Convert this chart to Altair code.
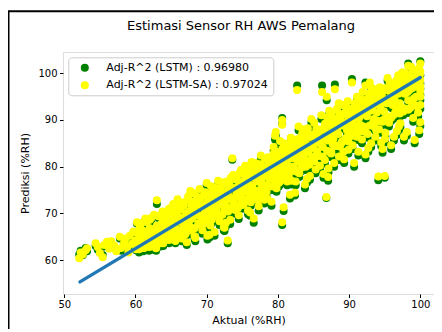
import altair as alt
import pandas as pd

# ---- data ----
# scattered points over the whole band (actual RH, LSTM-SA prediction, LSTM prediction)
spread_actual = [
    52.1, 52.3, 52.6, 53.0, 53.2, 54.4, 54.7, 55.0, 55.4, 55.6, 56.0, 56.3, 56.6, 57.0, 57.3, 57.8, 58.0, 58.4,
    58.6, 58.9, 59.2, 59.5, 59.7, 60.0, 60.2, 60.4, 60.6, 60.8, 61.0, 61.2, 61.4, 61.6, 61.8, 62.0, 59.0, 60.1, 61.1, 61.9, 62.2, 62.4,
    62.6, 62.8, 63.0, 63.0, 63.2, 63.4, 63.5, 63.7, 63.9, 64.0, 64.2, 64.3, 64.5, 64.7, 64.8, 65.0, 65.1, 65.3, 65.5, 65.6,
    65.8, 66.0, 62.9, 63.6, 64.4, 65.2, 65.9, 64.1,
    66.2, 66.3, 66.5, 66.6, 66.8, 67.0, 67.1, 67.3, 67.4, 67.6, 67.8, 67.9, 68.0, 68.2, 68.3, 68.5, 68.6, 68.8, 69.0, 69.1,
    69.3, 69.4, 69.6, 69.8, 69.9, 70.0, 66.4, 67.2, 67.7, 68.4, 68.9, 69.5, 70.1, 66.9, 68.1,
    70.2, 70.3, 70.5, 70.6, 70.8, 71.0, 71.1, 71.3, 71.4, 71.6, 71.8, 71.9, 72.0, 72.2, 72.3, 72.5, 72.6, 72.8, 73.0, 73.1,
    73.3, 73.4, 73.6, 73.8, 73.9, 74.0, 70.4, 70.9, 71.5, 72.1, 72.7, 73.2, 73.7, 70.7, 71.2, 71.7, 72.4, 72.9, 73.5, 72.95,
    74.2, 74.3, 74.5, 74.6, 74.8, 75.0, 75.1, 75.3, 75.4, 75.6, 75.8, 75.9, 76.0, 76.2, 76.3, 76.5, 76.6, 76.8, 77.0, 77.1,
    77.3, 77.4, 77.6, 77.8, 77.9, 78.0, 74.4, 74.9, 75.5, 76.1, 76.7, 77.2, 77.7, 74.7, 75.2, 75.7, 76.4, 76.9, 77.5, 78.1,
    78.2, 78.3, 78.5, 78.6, 78.8, 79.0, 79.1, 79.3, 79.4, 79.6, 79.8, 79.9, 80.0, 80.2, 80.3, 80.5, 80.6, 80.6, 80.8, 81.0,
    81.1, 81.3, 81.4, 81.6, 81.8, 81.9, 82.0, 78.4, 78.9, 79.5, 80.1, 80.7, 81.2, 81.7, 78.7, 79.2, 79.7, 80.4, 80.9, 81.5,
    82.1, 79.6, 80.6, 80.8,
    82.2, 82.3, 82.5, 82.6, 82.7, 82.8, 83.0, 83.1, 83.3, 83.4, 83.6, 83.8, 83.9, 84.0, 84.2, 84.3, 84.5, 84.6, 84.8, 85.0,
    85.1, 85.3, 85.4, 85.6, 85.8, 85.9, 86.0, 86.2, 82.4, 82.9, 83.5, 84.1, 84.7, 85.2, 85.7, 82.55, 83.2, 83.7, 84.4, 84.9,
    85.5, 86.1, 83.45,
    86.3, 86.5, 86.6, 86.8, 86.9, 87.0, 87.1, 87.3, 87.4, 87.6, 87.8, 87.9, 88.0, 88.0, 88.2, 88.3, 88.5, 88.6, 88.8, 89.0,
    89.1, 89.3, 89.4, 89.6, 89.8, 89.9, 90.0, 86.4, 86.7, 87.2, 87.7, 88.1, 88.7, 89.2, 89.7, 86.85, 87.5, 88.4, 88.9, 89.5,
    90.1, 87.05, 88.55,
    90.2, 90.3, 90.4, 90.5, 90.6, 90.8, 91.0, 91.1, 91.3, 91.4, 91.6, 91.8, 91.9, 92.0, 92.2, 92.3, 92.3, 92.5, 92.6, 92.8,
    93.0, 93.1, 93.3, 93.4, 93.6, 93.8, 93.9, 94.0, 90.7, 91.2, 91.7, 92.1, 92.7, 93.2, 93.7, 90.9, 91.5, 92.4, 92.9, 93.5,
    94.1, 94.2, 94.4, 94.5, 94.6, 94.8, 95.0, 95.0, 95.1, 95.3, 95.4, 95.6, 95.8, 95.9, 96.0, 96.2, 96.3, 96.5, 96.6, 96.8,
    97.0, 94.3, 94.7, 95.2, 95.7, 96.1, 96.7, 94.9, 95.5, 96.4, 96.9, 95.05,
    97.1, 97.2, 97.4, 97.5, 97.6, 97.8, 98.0, 98.1, 98.3, 98.3, 98.4, 98.6, 98.8, 98.9, 99.0, 99.2, 99.2, 99.4, 99.5, 99.6,
    99.8, 99.9, 100.0, 100.0, 100.0, 100.0, 100.0, 100.0, 97.3, 97.7, 98.2, 98.7, 99.1, 99.7, 97.9, 98.5, 99.3, 99.85, 100.0, 99.95,
]
spread_sa = [
    60.4, 61.6, 61.2, 62.1, 62.5, 63.6, 62.8, 61.5, 60.6, 63.2, 63.9, 62.4, 64.0, 63.1, 61.9, 65.0, 62.6, 63.7,
    64.6, 62.9, 65.2, 63.5, 66.1, 64.2, 65.8, 63.0, 67.0, 64.9, 66.3, 62.6, 65.5, 68.1, 64.1, 66.8, 61.6, 62.3, 63.8, 62.8, 69.0, 65.0,
    63.2, 66.0, 72.8, 67.4, 64.4, 69.5, 65.7, 67.9, 63.6, 70.2, 66.5, 68.8, 64.8, 71.0, 67.3, 65.4, 69.6, 72.0, 66.8, 64.1,
    70.5, 68.2, 62.5, 66.9, 65.9, 67.0, 73.0, 69.0,
    66.0, 70.8, 64.6, 68.5, 72.4, 65.5, 69.7, 67.2, 73.6, 70.4, 66.3, 71.6, 68.9, 74.3, 65.1, 70.1, 72.9, 67.6, 75.2, 69.4,
    71.8, 66.4, 73.9, 70.7, 68.0, 76.5, 71.5, 63.8, 74.8, 64.7, 72.0, 68.8, 65.2, 67.5, 71.2,
    70.0, 73.2, 67.4, 75.8, 69.1, 72.6, 66.0, 74.4, 70.9, 77.0, 68.3, 72.9, 75.5, 69.7, 73.8, 66.9, 71.7, 76.8, 70.4, 74.9,
    68.6, 77.6, 81.8, 72.3, 75.4, 70.7, 65.4, 71.4, 73.5, 72.0, 68.0, 76.1, 78.2, 71.8, 69.8, 74.6, 67.0, 73.0, 71.0, 64.2,
    73.5, 77.2, 69.6, 75.0, 79.3, 71.8, 76.4, 73.0, 80.2, 74.7, 70.6, 78.1, 76.0, 72.4, 81.0, 75.2, 68.9, 77.8, 74.0, 79.6,
    71.5, 76.9, 82.4, 73.6, 78.4, 75.6, 71.2, 74.3, 77.6, 70.2, 80.8, 72.8, 76.3, 78.6, 72.0, 75.9, 73.2, 79.0, 74.8, 72.9,
    76.0, 79.8, 73.2, 82.0, 77.4, 80.6, 72.5, 78.8, 84.2, 81.5, 75.4, 79.0, 83.0, 77.8, 85.5, 80.4, 68.1, 89.0, 71.3, 82.6,
    78.6, 76.8, 84.8, 80.0, 86.2, 77.0, 82.8, 74.6, 81.2, 78.2, 76.5, 83.6, 79.4, 74.0, 80.9, 75.8, 87.4, 79.2, 82.2, 78.0,
    81.8, 86.6, 90.0, 85.0,
    80.0, 83.4, 76.8, 85.8, 96.4, 81.2, 78.6, 84.6, 79.8, 87.0, 82.0, 76.2, 85.2, 80.8, 88.2, 83.0, 78.0, 86.4, 81.6, 84.0,
    89.4, 79.4, 85.8, 82.6, 87.6, 80.2, 84.8, 96.0, 74.4, 88.6, 83.8, 77.4, 90.2, 82.2, 86.0, 79.0, 81.0, 84.4, 80.4, 86.8,
    83.2, 91.0, 88.0,
    84.2, 88.0, 81.4, 73.5, 90.6, 85.6, 79.6, 87.2, 83.0, 91.6, 86.0, 80.8, 89.4, 96.6, 84.4, 92.4, 87.0, 82.2, 90.0, 85.4,
    93.2, 81.6, 88.8, 86.2, 94.0, 83.6, 90.6, 78.4, 86.4, 92.0, 84.8, 88.4, 91.2, 83.2, 87.8, 95.0, 82.8, 89.8, 85.0, 92.8,
    88.2, 77.8, 93.6,
    86.8, 91.0, 98.0, 84.6, 89.2, 93.6, 87.4, 95.0, 83.2, 90.4, 92.6, 85.8, 96.0, 88.6, 94.2, 82.6, 97.4, 90.8, 87.0, 95.6,
    92.0, 85.0, 93.8, 89.6, 96.6, 87.8, 91.6, 94.8, 80.8, 88.0, 94.4, 91.2, 84.0, 96.8, 86.4, 92.4, 89.0, 93.0, 98.0, 90.2,
    77.9, 88.0, 92.6, 85.2, 95.4, 90.0, 96.8, 78.0, 87.2, 93.6, 99.0, 89.4, 94.8, 84.6, 97.6, 91.0, 86.4, 95.8, 98.4, 92.2,
    88.6, 97.0, 83.8, 90.8, 98.0, 93.2, 87.6, 91.8, 96.4, 94.2, 99.6, 86.0,
    93.6, 89.3, 97.2, 100.2, 91.8, 95.6, 98.8, 87.4, 101.6, 94.2, 99.6, 92.6, 96.8, 100.8, 90.4, 97.8, 85.7, 95.0, 99.4, 93.0,
    101.0, 97.0, 89.5, 93.2, 96.2, 98.6, 100.4, 102.1, 99.0, 86.4, 96.0, 101.4, 94.6, 91.6, 100.0, 97.6, 98.2, 87.8, 95.0, 99.8,
]
spread_lstm = [
    61.2, 62.0, 61.0, 62.6, 61.9, 63.0, 62.2, 61.6, 61.1, 62.9, 63.2, 62.8, 63.5, 62.7, 62.3, 64.6, 62.0, 63.1,
    64.0, 63.3, 64.5, 63.0, 65.4, 63.5, 65.0, 62.4, 66.2, 64.1, 65.5, 62.2, 64.8, 67.3, 63.4, 66.0, 61.9, 62.1, 63.1, 62.0, 68.2, 64.2,
    62.6, 65.2, 72.0, 66.6, 63.8, 68.6, 65.0, 67.0, 63.0, 69.3, 65.6, 68.0, 64.0, 70.1, 66.6, 64.6, 68.7, 71.2, 65.9, 63.6,
    69.6, 67.3, 62.0, 66.0, 65.1, 66.1, 72.1, 68.2,
    65.2, 70.0, 64.0, 67.6, 71.5, 64.8, 68.8, 66.3, 72.8, 69.5, 65.5, 70.8, 68.0, 73.4, 64.5, 69.2, 72.0, 66.8, 74.4, 68.5,
    70.9, 65.6, 73.0, 69.8, 67.2, 76.0, 70.6, 63.2, 73.9, 64.0, 71.1, 68.0, 64.4, 66.7, 70.3,
    69.2, 72.4, 66.6, 75.0, 68.2, 71.8, 65.2, 73.6, 70.0, 76.2, 67.5, 72.0, 74.6, 68.8, 73.0, 66.2, 70.8, 76.0, 69.6, 74.0,
    67.7, 76.8, 81.5, 71.5, 74.5, 69.9, 64.8, 70.5, 72.7, 71.1, 67.2, 75.2, 77.4, 71.0, 69.0, 73.7, 66.3, 72.2, 70.1, 63.6,
    72.7, 76.4, 68.8, 74.2, 78.5, 71.0, 75.6, 72.2, 79.4, 73.8, 69.8, 77.3, 75.1, 71.6, 80.2, 74.4, 68.0, 77.0, 73.1, 78.8,
    70.6, 76.0, 81.6, 72.8, 77.6, 74.8, 70.4, 73.5, 76.8, 69.5, 80.0, 72.0, 75.5, 77.8, 71.2, 75.0, 72.4, 78.2, 74.0, 72.1,
    75.2, 79.0, 72.4, 81.2, 76.6, 79.8, 71.6, 78.0, 83.4, 80.7, 74.6, 78.2, 82.2, 77.0, 84.7, 79.6, 67.5, 90.4, 70.5, 81.8,
    77.8, 76.0, 84.0, 79.2, 85.4, 76.2, 82.0, 73.8, 80.4, 77.4, 75.7, 82.8, 78.6, 73.2, 80.1, 75.0, 86.6, 78.4, 81.4, 77.2,
    81.0, 85.8, 89.2, 84.2,
    79.2, 82.6, 76.0, 85.0, 97.4, 80.4, 77.8, 83.8, 79.0, 86.2, 81.2, 75.4, 84.4, 80.0, 87.4, 82.2, 77.2, 85.6, 80.8, 83.2,
    88.6, 78.6, 85.0, 81.8, 86.8, 79.4, 84.0, 97.4, 73.8, 87.8, 83.0, 76.6, 89.4, 81.4, 85.2, 78.2, 80.2, 83.6, 79.6, 86.0,
    82.4, 90.2, 87.2,
    83.4, 87.2, 80.6, 73.3, 89.8, 84.8, 78.8, 86.4, 82.2, 90.8, 85.2, 80.0, 88.6, 97.6, 83.6, 91.6, 86.2, 81.4, 89.2, 84.6,
    92.4, 80.8, 88.0, 85.4, 93.2, 82.8, 89.8, 77.6, 85.6, 91.2, 84.0, 87.6, 90.4, 82.4, 87.0, 94.2, 82.0, 89.0, 84.2, 92.0,
    87.4, 77.0, 92.8,
    86.0, 90.2, 98.8, 83.8, 88.4, 92.8, 86.6, 94.2, 82.4, 89.6, 91.8, 85.0, 95.2, 87.8, 93.4, 81.8, 98.0, 90.0, 86.2, 94.8,
    91.2, 84.2, 93.0, 88.8, 95.8, 87.0, 90.8, 94.0, 80.0, 87.2, 93.6, 90.4, 83.2, 96.0, 85.6, 91.6, 88.2, 92.2, 97.2, 89.4,
    77.1, 87.2, 91.8, 84.4, 94.6, 89.2, 96.0, 77.6, 86.4, 92.8, 98.4, 88.6, 94.0, 83.8, 96.8, 90.2, 85.6, 95.0, 97.6, 91.4,
    87.8, 96.2, 83.0, 90.0, 97.2, 92.4, 86.8, 91.0, 95.6, 93.4, 98.8, 85.2,
    92.8, 88.5, 96.4, 99.4, 91.0, 94.8, 98.0, 86.6, 102.1, 93.4, 98.8, 91.8, 96.0, 100.0, 89.6, 97.0, 85.0, 94.2, 98.6, 92.2,
    100.2, 96.2, 88.7, 92.4, 95.4, 97.8, 99.6, 102.6, 98.2, 85.6, 95.2, 100.6, 93.8, 90.8, 99.2, 96.8, 97.4, 87.0, 94.2, 99.0,
]

# the dense middle of the band
core_actual = [
    60.3, 60.9, 61.5, 62.1, 62.7, 63.3, 63.8, 64.6, 65.4, 65.7, 66.1, 66.7, 67.15, 67.5, 68.05, 68.7, 69.2, 69.7, 70.15, 70.55,
    71.05, 71.55, 72.05, 72.45, 72.85, 73.25, 73.75, 74.15, 74.55, 74.85, 75.25, 75.65, 76.05, 76.35, 76.75, 77.05, 77.45, 77.75, 78.15, 78.45,
    78.85, 79.15, 79.55, 79.85, 80.25, 80.55, 80.95, 81.25, 81.65, 81.95, 82.35, 82.65, 83.05, 83.35, 83.75, 84.05, 84.45, 84.75, 85.15, 85.45,
    85.85, 86.15, 86.55, 86.95, 87.35, 87.65, 88.05, 88.35, 88.75, 89.05, 89.45, 89.75, 90.15, 90.45, 90.85, 91.15, 91.55, 91.85, 92.25, 92.55,
    92.95, 93.25, 93.65, 93.95, 94.35, 94.65, 95.15, 95.45, 95.85, 96.25, 96.55, 96.95, 97.35, 97.65, 98.05, 98.45, 98.75, 99.05, 99.35, 99.65,
    99.9, 100.0,
]
core_sa = [
    64.0, 65.6, 64.8, 66.2, 65.1, 67.0, 66.0, 67.8, 68.5, 66.6, 69.2, 67.3, 70.0, 68.2, 70.6, 69.6, 71.3, 70.0, 72.4, 71.0,
    73.2, 71.9, 74.0, 72.6, 74.6, 73.4, 75.4, 74.0, 76.2, 74.8, 77.0, 75.4, 77.6, 76.0, 78.4, 76.8, 79.2, 77.4, 79.8, 78.2,
    80.6, 79.0, 81.4, 79.8, 82.0, 80.4, 82.8, 81.0, 83.6, 81.8, 84.2, 82.6, 85.0, 83.2, 85.6, 84.0, 86.4, 84.6, 87.0, 85.4,
    87.8, 86.0, 88.4, 86.8, 89.2, 87.4, 90.0, 88.2, 90.6, 88.8, 91.4, 89.6, 92.0, 90.2, 92.8, 91.0, 93.4, 91.6, 94.0, 92.2,
    94.6, 92.8, 95.2, 93.4, 95.8, 94.0, 96.4, 94.4, 96.8, 95.0, 97.2, 95.6, 97.8, 96.0, 98.2, 96.4, 98.6, 97.0, 99.2, 97.4,
    98.0, 97.2,
]
core_lstm = [
    63.6, 65.0, 64.3, 65.6, 64.7, 66.5, 65.4, 67.2, 68.0, 66.1, 68.6, 66.8, 69.4, 67.7, 70.0, 69.1, 70.7, 69.5, 71.8, 70.5,
    72.6, 71.4, 73.4, 72.1, 74.0, 72.9, 74.8, 73.5, 75.6, 74.3, 76.4, 74.9, 77.0, 75.5, 77.8, 76.3, 78.6, 76.9, 79.2, 77.7,
    80.0, 78.5, 80.8, 79.3, 81.4, 79.9, 82.2, 80.5, 83.0, 81.3, 83.6, 82.1, 84.4, 82.7, 85.0, 83.5, 85.8, 84.1, 86.4, 84.9,
    87.2, 85.5, 87.8, 86.3, 88.6, 86.9, 89.4, 87.7, 90.0, 88.3, 90.8, 89.1, 91.4, 89.7, 92.2, 90.5, 92.8, 91.1, 93.4, 91.7,
    94.0, 92.3, 94.6, 92.9, 95.2, 93.5, 95.8, 93.9, 96.2, 94.5, 96.6, 95.1, 97.2, 95.5, 97.6, 95.9, 98.0, 96.5, 98.6, 96.9,
    97.4, 96.7,
]

# upper half of the dense band
upper_actual = [
    60.2, 60.8, 61.4, 62.0, 62.6, 63.2, 63.8, 64.4, 65.0, 65.6, 66.2, 66.8, 67.4, 68.0, 68.6, 69.2, 69.8, 70.4, 71.0, 71.6,
    72.2, 72.8, 73.4, 74.0, 74.6, 75.2, 75.8, 76.4, 77.0, 77.6, 78.2, 78.8, 79.4, 80.0, 80.6, 81.2, 81.8, 82.4, 83.0, 83.6,
    84.2, 84.8, 85.4, 86.0, 86.6, 87.2, 87.8, 88.4, 89.0, 89.6, 90.2, 90.8, 91.4, 92.0, 92.6, 93.2, 93.8, 94.4, 95.0, 95.6,
    96.2, 96.8, 97.4, 98.0, 98.6, 99.2, 99.8,
]
upper_sa = [
    68.1, 67.9, 68.9, 68.6, 69.7, 69.4, 70.4, 70.0, 71.2, 70.8, 72.0, 71.6, 72.9, 72.5, 73.6, 73.3, 74.5, 74.2, 75.6, 75.3,
    76.6, 76.3, 77.5, 77.3, 78.6, 78.4, 79.6, 79.4, 80.7, 80.5, 81.7, 81.5, 82.8, 82.6, 83.8, 83.6, 84.9, 84.7, 86.0, 85.7,
    87.0, 86.8, 88.1, 87.9, 89.2, 88.9, 90.3, 90.0, 91.3, 91.1, 92.4, 92.2, 93.4, 93.2, 94.5, 94.3, 95.6, 95.4, 96.6, 96.3,
    97.5, 97.2, 98.3, 98.0, 99.2, 98.9, 99.9,
]
upper_lstm = [
    67.8, 67.6, 68.6, 68.3, 69.4, 69.1, 70.1, 69.7, 70.9, 70.5, 71.7, 71.3, 72.6, 72.2, 73.3, 73.0, 74.2, 73.9, 75.3, 75.0,
    76.3, 76.0, 77.2, 77.0, 78.3, 78.1, 79.3, 79.1, 80.4, 80.2, 81.4, 81.2, 82.5, 82.3, 83.5, 83.3, 84.6, 84.4, 85.7, 85.4,
    86.7, 86.5, 87.8, 87.6, 88.9, 88.6, 90.0, 89.7, 91.0, 90.8, 92.1, 91.9, 93.1, 92.9, 94.2, 94.0, 95.3, 95.1, 96.3, 96.0,
    97.2, 96.9, 98.0, 97.7, 98.9, 98.6, 99.6,
]

# lower half of the dense band
lower_actual = [
    60.5, 61.1, 61.7, 62.3, 62.9, 63.5, 64.1, 64.7, 65.3, 65.9, 66.5, 67.1, 67.7, 68.3, 68.9, 69.5, 70.1, 70.7, 71.3, 71.9,
    72.5, 73.1, 73.7, 74.3, 74.9, 75.5, 76.1, 76.7, 77.3, 77.9, 78.5, 79.1, 79.7, 80.3, 80.9, 81.5, 82.1, 82.7, 83.3, 83.9,
    84.5, 85.1, 85.7, 86.3, 86.9, 87.5, 88.1, 88.7, 89.3, 89.9, 90.5, 91.1, 91.7, 92.3, 92.9, 93.5, 94.1, 94.7, 95.3, 95.9,
    96.5, 97.1, 97.7, 98.3, 98.9, 99.5,
]
lower_sa = [
    62.3, 62.6, 63.1, 62.9, 63.8, 63.6, 64.6, 64.3, 65.3, 65.1, 66.1, 65.9, 67.0, 66.8, 67.9, 67.7, 68.7, 68.6, 69.7, 69.6,
    70.8, 70.7, 71.8, 71.6, 72.8, 72.7, 73.9, 73.8, 74.9, 74.8, 75.9, 75.8, 77.0, 76.8, 78.0, 77.9, 79.1, 78.9, 80.2, 80.0,
    81.3, 81.1, 82.3, 82.1, 83.4, 83.2, 84.5, 84.3, 85.6, 85.4, 86.6, 86.4, 87.6, 87.5, 88.8, 88.6, 89.8, 89.6, 90.8, 90.5,
    91.7, 91.4, 92.5, 92.2, 93.4, 93.0,
]
lower_lstm = [
    61.6, 61.9, 62.4, 62.2, 63.1, 62.9, 63.9, 63.6, 64.6, 64.4, 65.4, 65.2, 66.3, 66.1, 67.2, 67.0, 68.0, 67.9, 69.0, 68.9,
    70.1, 70.0, 71.1, 70.9, 72.1, 72.0, 73.2, 73.1, 74.2, 74.1, 75.2, 75.1, 76.3, 76.1, 77.3, 77.2, 78.4, 78.2, 79.5, 79.3,
    80.6, 80.4, 81.6, 81.4, 82.7, 82.5, 83.8, 83.6, 84.9, 84.7, 85.9, 85.7, 86.9, 86.8, 88.1, 87.9, 89.1, 88.9, 90.1, 89.8,
    91.0, 90.7, 91.8, 91.5, 92.7, 92.3,
]

# regression line end points
line_x = [52.2, 100.0]
line_y = [55.3, 99.1]

x_ticks = [50, 60, 70, 80, 90, 100]
y_ticks = [60, 70, 80, 90, 100]

label_lstm = "Adj-R^2 (LSTM) : 0.96980"
label_sa = "Adj-R^2 (LSTM-SA) : 0.97024"
title_text = "Estimasi Sensor RH AWS Pemalang"

actual = spread_actual + core_actual + upper_actual + lower_actual
pred_lstm_sa = spread_sa + core_sa + upper_sa + lower_sa
pred_lstm = spread_lstm + core_lstm + upper_lstm + lower_lstm

n = len(actual)
assert len(pred_lstm) == n, (len(pred_lstm), n)
assert len(pred_lstm_sa) == n, (len(pred_lstm_sa), n)

df = pd.DataFrame({
    "actual": actual + actual,
    "pred": pred_lstm + pred_lstm_sa,
    "series": [label_lstm] * n + [label_sa] * n,
})
line_df = pd.DataFrame({"x": line_x, "y": line_y})

FONT = "DejaVu Sans"
xs = alt.Scale(domain=[49.82, 101.92], nice=False, zero=False)
ys = alt.Scale(domain=[52.72, 104.56], nice=False, zero=False)

x_axis = alt.Axis(values=x_ticks, title="Aktual (%RH)", format="d",
                  grid=False, domain=False, tickSize=3.5, tickColor="#000",
                  labelColor="#000", labelFontSize=10, labelFont=FONT,
                  labelPadding=2, titleFont=FONT, titleFontSize=11,
                  titleFontWeight="normal", titleColor="#000", titlePadding=5)
y_axis = alt.Axis(values=y_ticks, title="Prediksi (%RH)", format="d",
                  grid=False, domain=False, tickSize=3.5, tickColor="#000",
                  labelColor="#000", labelFontSize=10, labelFont=FONT,
                  labelPadding=2.5, titleFont=FONT, titleFontSize=11,
                  titleFontWeight="normal", titleColor="#000", titlePadding=7)

border = alt.Chart(pd.DataFrame({"a": [0]})).mark_rect(
    filled=False, color="black", strokeWidth=2
).encode(
    x=alt.value(-54.5), x2=alt.value(420), y=alt.value(-40.7), y2=alt.value(330)
)

title_mark = alt.Chart(pd.DataFrame({"t": [title_text]})).mark_text(
    font=FONT, fontSize=13, color="#000", align="center", baseline="alphabetic"
).encode(x=alt.value(178), y=alt.value(-21.7), text="t:N")

points = alt.Chart(df).mark_circle(size=64, opacity=1, strokeWidth=0).encode(
    x=alt.X("actual:Q", scale=xs, axis=x_axis),
    y=alt.Y("pred:Q", scale=ys, axis=y_axis),
    color=alt.Color("series:N",
                    scale=alt.Scale(domain=[label_lstm, label_sa], range=["green", "yellow"]),
                    legend=alt.Legend(title=None, orient="none", legendX=5.3, legendY=5.3,
                                      padding=5, symbolOffset=6, labelOffset=16, rowPadding=5.5,
                                      symbolSize=64, symbolType="circle", symbolStrokeWidth=0,
                                      labelFontSize=11, labelFont=FONT, labelColor="#000",
                                      labelLimit=400, fillColor="rgba(255,255,255,0.8)",
                                      strokeColor="#cccccc", cornerRadius=3)),
)

reg = alt.Chart(line_df).mark_line(color="#1f77b4", strokeWidth=3.3, strokeCap="round").encode(
    x=alt.X("x:Q", scale=xs, axis=x_axis),
    y=alt.Y("y:Q", scale=ys, axis=y_axis),
)

chart = alt.layer(border, title_mark, points, reg).properties(
    width=371,
    height=242,
    padding={"left": 55, "top": 44, "right": 0, "bottom": 35},
    autosize="none",
).configure_view(stroke="#333", strokeWidth=1).configure(background="white")

chart.save("out.html", embed_options={"renderer": "svg", "actions": False})
